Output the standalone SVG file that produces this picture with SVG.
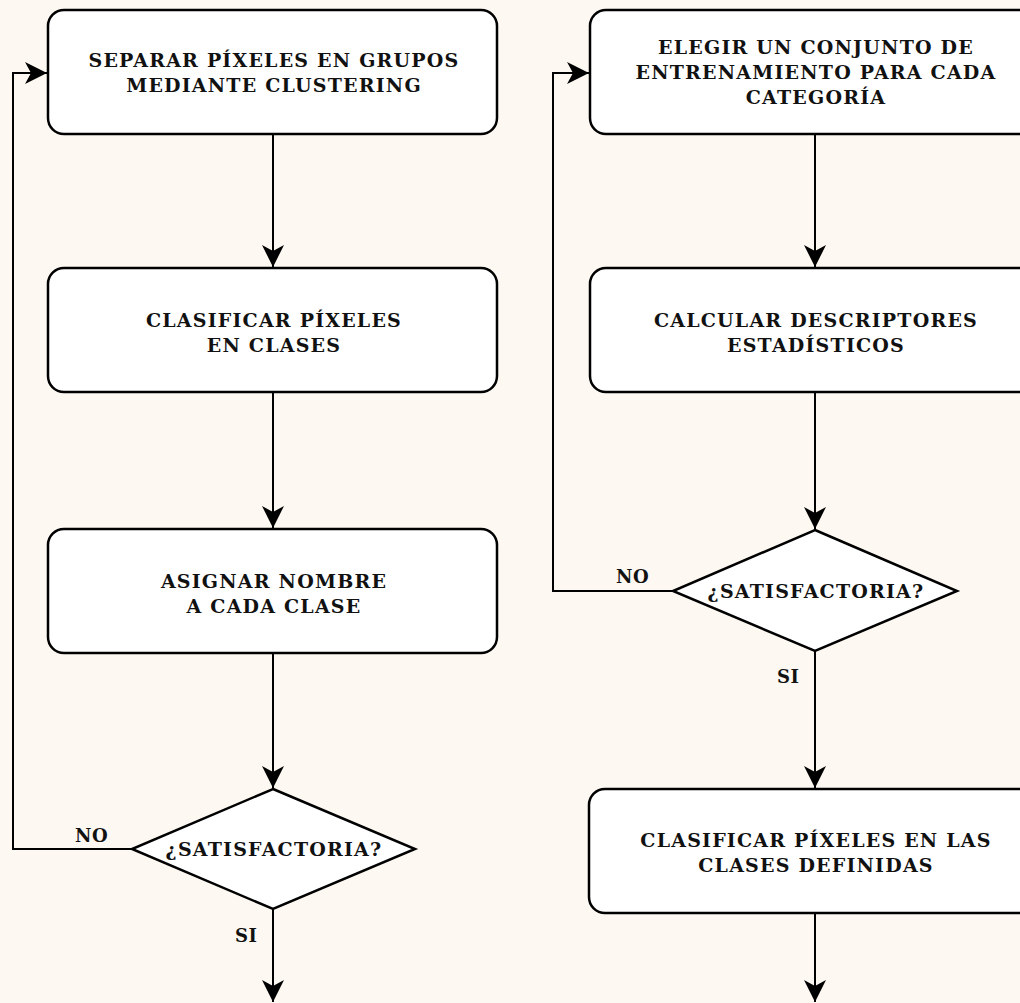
<svg xmlns="http://www.w3.org/2000/svg" width="1020" height="1003" viewBox="0 0 1020 1003">
<style>
.bg{fill:#fdf8f1}
.box{fill:#ffffff;stroke:#000000;stroke-width:2.5}
.dia{fill:#ffffff;stroke:#000000;stroke-width:2.5}
.t{font-family:"DejaVu Serif","Liberation Serif",serif;font-weight:bold;font-size:19px;letter-spacing:1.2px;fill:#111;text-anchor:middle}
.lbl{font-family:"DejaVu Serif","Liberation Serif",serif;font-weight:bold;font-size:18px;letter-spacing:0.5px;fill:#111}
.c{fill:none;stroke:#000;stroke-width:2}
</style>
<defs>
<marker id="ah" markerWidth="24" markerHeight="24" viewBox="-23 -12 24 24" refX="0" refY="0" orient="auto" markerUnits="userSpaceOnUse">
<path d="M0,0 L-22,-11 L-16,0 L-22,11 Z" fill="#000"/>
</marker>
</defs>
<rect class="bg" x="0" y="0" width="1020" height="1003"/>
<g id="connectors">
<line class="c" x1="273" y1="134" x2="273" y2="267" marker-end="url(#ah)"/>
<line class="c" x1="273" y1="392" x2="273" y2="528" marker-end="url(#ah)"/>
<line class="c" x1="273" y1="653" x2="273" y2="788" marker-end="url(#ah)"/>
<line class="c" x1="273" y1="909" x2="273" y2="1002" marker-end="url(#ah)"/>
<polyline class="c" points="132,849 13,849 13,73 47,73" marker-end="url(#ah)"/>
<line class="c" x1="815" y1="134" x2="815" y2="267" marker-end="url(#ah)"/>
<line class="c" x1="815" y1="392" x2="815" y2="529" marker-end="url(#ah)"/>
<line class="c" x1="815" y1="651" x2="815" y2="788" marker-end="url(#ah)"/>
<line class="c" x1="815" y1="913" x2="815" y2="1002" marker-end="url(#ah)"/>
<polyline class="c" points="673,591 553,591 553,73 589,73" marker-end="url(#ah)"/>
<text class="lbl" x="75" y="842">NO</text>
<text class="lbl" x="235" y="942">SI</text>
<text class="lbl" x="616" y="583">NO</text>
<text class="lbl" x="777" y="683">SI</text>
</g>
<g id="n1">
<rect class="box" x="48" y="10" width="449" height="124" rx="16"/>
<text class="t" x="274" y="67">SEPARAR PÍXELES EN GRUPOS</text>
<text class="t" x="274" y="92">MEDIANTE CLUSTERING</text>
</g>
<g id="n2">
<rect class="box" x="48" y="268" width="449" height="124" rx="16"/>
<text class="t" x="274" y="327">CLASIFICAR PÍXELES</text>
<text class="t" x="274" y="352">EN CLASES</text>
</g>
<g id="n3">
<rect class="box" x="48" y="529" width="449" height="124" rx="16"/>
<text class="t" x="274" y="588">ASIGNAR NOMBRE</text>
<text class="t" x="274" y="613">A CADA CLASE</text>
</g>
<g id="n4">
<polygon class="dia" points="273,789 415,849 273,909 132,849"/>
<text class="t" x="274" y="856">¿SATISFACTORIA?</text>
</g>
<g id="n5">
<rect class="box" x="590" y="10" width="450" height="124" rx="16"/>
<text class="t" x="816" y="54">ELEGIR UN CONJUNTO DE</text>
<text class="t" x="816" y="79">ENTRENAMIENTO PARA CADA</text>
<text class="t" x="816" y="104">CATEGORÍA</text>
</g>
<g id="n6">
<rect class="box" x="590" y="268" width="450" height="124" rx="16"/>
<text class="t" x="816" y="327">CALCULAR DESCRIPTORES</text>
<text class="t" x="816" y="352">ESTADÍSTICOS</text>
</g>
<g id="n7">
<polygon class="dia" points="815,530 957,591 815,651 673,591"/>
<text class="t" x="816" y="598">¿SATISFACTORIA?</text>
</g>
<g id="n8">
<rect class="box" x="589" y="789" width="451" height="124" rx="16"/>
<text class="t" x="816" y="847">CLASIFICAR PÍXELES EN LAS</text>
<text class="t" x="816" y="872">CLASES DEFINIDAS</text>
</g>
</svg>
